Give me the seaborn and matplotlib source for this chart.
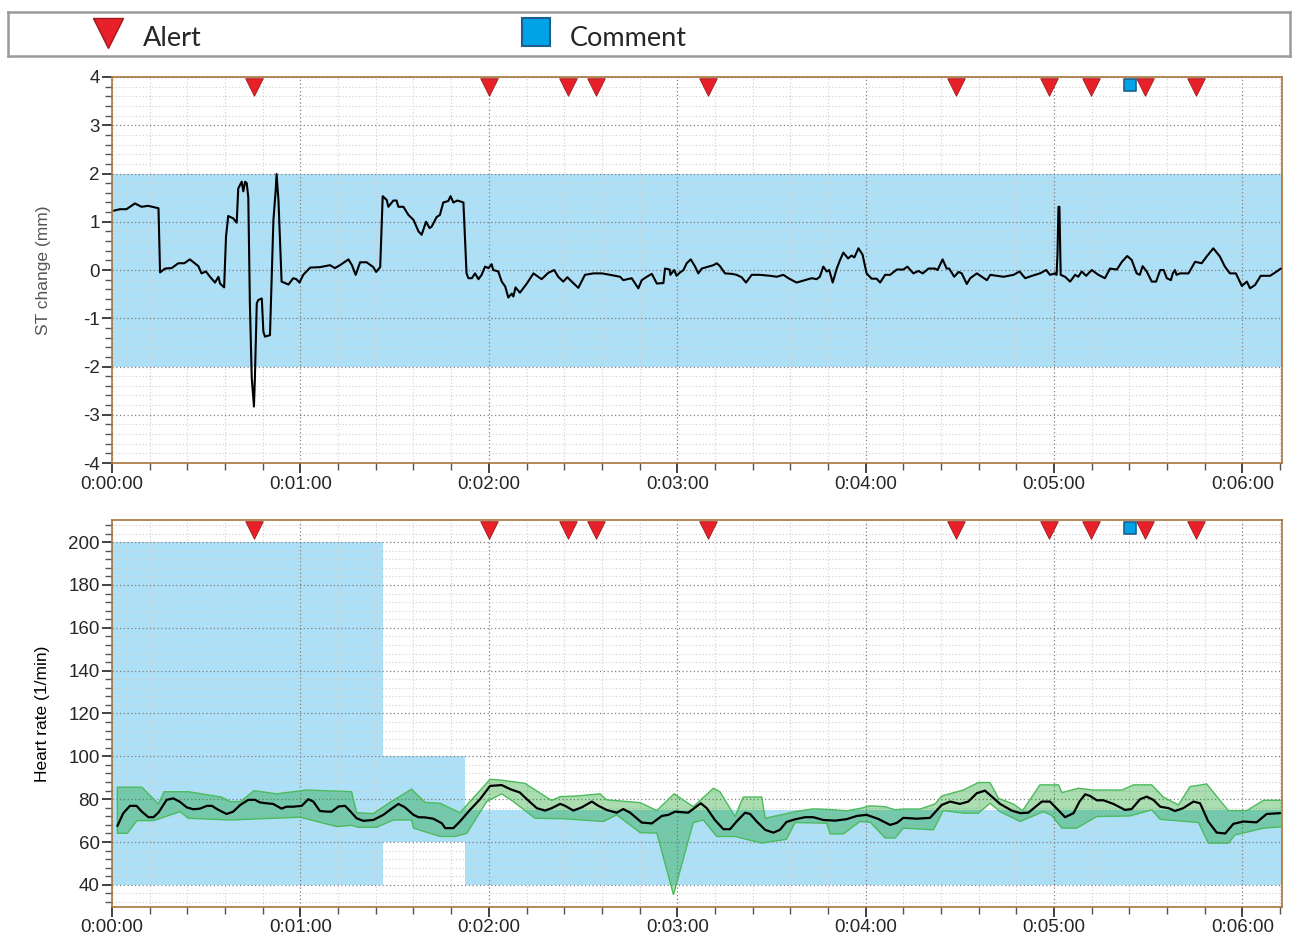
import matplotlib
matplotlib.use("Agg")
import numpy as np
import pandas as pd
import seaborn as sns
import matplotlib.pyplot as plt
from matplotlib.ticker import MultipleLocator, FuncFormatter

# ST change trace (seconds, mm)
st_time = [0.6, 2.5, 4.6, 7.3, 9.4, 11.5, 14.8, 15.3, 16.9, 19.0, 21.1, 23.0, 24.8, 27.5, 28.5, 29.9,
           31.2, 32.8, 33.9, 34.4, 35.7, 36.3, 37.0, 38.6, 39.7, 40.2, 41.3, 41.8, 42.4, 42.9, 43.4,
           43.9, 44.5, 45.2, 45.5, 46.1, 46.6, 47.7, 48.2, 48.7, 50.3, 51.4, 52.1, 52.4, 53.0, 54.0,
           56.2, 57.7, 58.7, 59.7, 60.9, 63.1, 66.3, 69.4, 71.0, 72.6, 75.3, 76.4, 77.6, 79.0, 81.1,
           83.2, 84.1, 85.4, 86.2, 87.5, 88.0, 89.6, 90.6, 91.2, 92.8, 94.4, 96.0, 97.6, 98.6, 100.0,
           101.1, 101.8, 103.4, 104.4, 105.5, 107.1, 107.8, 108.7, 110.0, 111.9, 112.9, 113.5, 114.6,
           115.6, 116.7, 117.7, 118.8, 119.9, 120.9, 121.4, 123.0, 124.1, 125.2, 126.2, 127.3, 127.8,
           128.5, 129.9, 132.1, 134.2, 136.8, 138.9, 140.8, 142.1, 143.7, 145.0, 146.4, 148.5, 150.6,
           153.3, 156.0, 158.6, 161.8, 162.8, 165.5, 167.6, 168.7, 170.3, 171.9, 173.5, 175.6, 176.1,
           177.6, 177.8, 179.0, 179.8, 180.9, 182.0, 183.0, 184.3, 185.7, 186.7, 187.8, 189.9, 191.5,
           192.6, 193.6, 195.2, 197.4, 198.9, 200.5, 201.9, 203.7, 206.3, 209.6, 211.7, 213.8, 215.4,
           218.0, 220.1, 222.8, 224.4, 225.4, 226.5, 227.6, 228.4, 229.5, 230.8, 231.8, 232.9, 234.4,
           235.5, 236.4, 237.7, 239.0, 240.3, 241.9, 243.5, 244.6, 246.2, 247.8, 249.9, 252.0, 253.3,
           255.2, 256.8, 258.2, 260.0, 262.1, 262.9, 264.5, 265.8, 266.6, 268.2, 269.6, 270.6, 272.2,
           273.3, 275.4, 277.0, 278.6, 279.7, 281.8, 283.9, 287.1, 289.0, 290.8, 293.0, 295.5, 297.5,
           298.7, 300.3, 300.8, 301.1, 301.4, 301.7, 301.9, 302.1, 303.5, 305.1, 306.7, 307.7, 308.8,
           310.2, 312.0, 314.1, 316.2, 317.8, 320.0, 321.6, 323.3, 324.7, 326.3, 327.3, 328.2, 329.5,
           331.1, 332.5, 333.8, 334.9, 335.9, 337.2, 337.8, 338.5, 339.0, 340.1, 342.8, 344.9, 347.0,
           348.6, 350.7, 352.8, 354.4, 356.0, 357.9, 359.8, 361.4, 362.4, 364.0, 365.8, 368.8, 370.7,
           372.2]
st_value = [1.23, 1.26, 1.26, 1.38, 1.31, 1.33, 1.28, -0.05, 0.03, 0.04, 0.14, 0.14, 0.22, 0.08, -0.07, -0.03,
            -0.14, -0.26, -0.14, -0.28, -0.36, 0.69, 1.12, 1.07, 0.98, 1.69, 1.83, 1.63, 1.83, 1.80, 1.50,
            -0.69, -2.24, -2.83, -2.24, -0.69, -0.62, -0.59, -1.28, -1.38, -1.35, 1.04, 1.63, 1.99, 1.45, -0.24,
            -0.30, -0.17, -0.19, -0.26, -0.10, 0.05, 0.06, 0.10, 0.04, 0.10, 0.22, 0.10, -0.10, 0.16, 0.16,
            0.06, -0.04, 0.06, 1.53, 1.45, 1.31, 1.44, 1.44, 1.31, 1.31, 1.14, 1.04, 0.80, 0.73, 1.00,
            0.87, 0.90, 1.10, 1.14, 1.40, 1.43, 1.53, 1.40, 1.44, 1.40, -0.07, -0.17, -0.17,
            -0.07, -0.19, -0.10, 0.07, 0.04, 0.12, 0.00, -0.03, -0.24, -0.34, -0.57, -0.49, -0.55,
            -0.36, -0.47, -0.28, -0.07, -0.19, -0.06, 0.00, -0.14, -0.24, -0.15, -0.24, -0.37, -0.10,
            -0.07, -0.07, -0.10, -0.14, -0.21, -0.17, -0.38, -0.21, -0.14, -0.08, -0.28, -0.27, 0.03,
            0.01, -0.10, 0.00, -0.12, -0.05, 0.00, 0.14, 0.22, 0.07, -0.07, 0.03, 0.07, 0.10,
            0.14, 0.08, -0.07, -0.08, -0.10, -0.15, -0.26, -0.10, -0.10, -0.12, -0.14, -0.10, -0.17,
            -0.26, -0.22, -0.17, -0.19, -0.14, 0.07, -0.03, 0.00, -0.26, 0.03, 0.20, 0.36, 0.24,
            0.30, 0.26, 0.45, 0.32, -0.07, -0.18, -0.18, -0.26, -0.10, -0.10, 0.01, 0.01, 0.07,
            -0.07, -0.02, -0.07, 0.03, 0.03, 0.00, 0.22, 0.03, 0.03, -0.14, -0.04, -0.07, -0.29,
            -0.17, -0.07, -0.14, -0.21, -0.10, -0.12, -0.14, -0.10, -0.03, -0.17, -0.12, -0.07, 0.00,
            -0.10, -0.07, -0.10, 0.35, 1.31, 1.31, 0.62, -0.10, -0.14, -0.24, -0.10, -0.14, -0.03,
            -0.12, 0.00, -0.10, -0.17, 0.03, 0.01, 0.17, 0.29, 0.21, -0.07, -0.10, 0.08, -0.03,
            -0.24, -0.24, 0.00, 0.00, -0.17, -0.21, -0.07, 0.00, -0.10, -0.07, -0.07, 0.17, 0.14,
            0.28, 0.45, 0.28, 0.07, -0.07, -0.07, -0.33, -0.24, -0.38, -0.31, -0.12, -0.12, -0.04,
            0.03]

# heart rate mean (seconds, 1/min)
hr_time = [1.7, 3.6, 5.7, 7.8, 9.5, 11.6, 13.2, 14.8, 17.4, 19.5, 21.6, 23.8, 25.9, 28.0, 30.2, 31.8,
           33.9, 36.5, 38.6, 40.8, 43.4, 45.5, 47.1, 49.2, 51.3, 54.0, 55.5, 57.7, 60.4, 62.5, 64.1,
           66.2, 68.4, 70.0, 72.1, 74.2, 75.8, 77.9, 80.0, 83.2, 86.4, 88.5, 91.2, 93.3, 96.0, 97.6,
           99.7, 102.3, 105.0, 106.1, 108.7, 110.8, 114.0, 117.2, 120.4, 124.1, 126.8, 129.9, 132.1,
           135.3, 137.9, 140.0, 142.7, 144.3, 146.9, 149.6, 152.8, 154.9, 157.5, 160.7, 162.8, 165.0,
           168.7, 171.9, 175.1, 177.2, 179.3, 183.5, 185.7, 187.5, 189.4, 192.0, 194.7, 196.8, 198.9,
           201.6, 203.2, 205.3, 208.0, 210.6, 212.7, 214.8, 217.5, 220.7, 223.3, 226.5, 230.3, 234.0,
           237.2, 240.3, 244.0, 247.8, 250.0, 252.0, 256.3, 260.5, 264.2, 266.9, 270.0, 272.7, 275.4,
           278.0, 280.2, 282.8, 286.5, 289.2, 291.8, 296.1, 298.7, 301.4, 303.5, 306.2, 308.1, 309.9,
           311.5, 313.6, 315.7, 318.9, 322.6, 324.7, 327.4, 329.5, 331.6, 333.8, 336.5, 338.5, 341.1,
           344.4, 346.5, 349.1, 351.8, 354.5, 357.1, 360.3, 364.5, 367.7, 372.0]
hr_mean = [67.5, 73.5, 76.9, 76.9, 74.2, 71.6, 71.6, 73.8, 79.7, 80.4, 78.8, 76.2, 75.3, 75.6, 76.9, 76.9,
           75.0, 73.1, 74.2, 77.3, 79.7, 79.7, 78.5, 78.1, 77.8, 75.6, 76.5, 76.5, 76.9, 80.0, 78.9,
           74.5, 74.2, 74.2, 76.6, 76.9, 74.5, 71.1, 69.9, 70.3, 72.7, 75.0, 77.8, 76.2, 72.7, 71.6,
           71.5, 70.9, 68.8, 66.5, 66.5, 69.6, 75.0, 80.0, 86.2, 86.6, 84.7, 83.1, 80.0,
           75.8, 74.7, 75.8, 77.8, 76.9, 74.7, 76.2, 78.9, 76.9, 75.0, 73.7, 75.4, 73.7,
           69.1, 68.7, 72.2, 72.7, 74.2, 73.7, 76.1, 78.1, 75.8, 70.3, 66.0, 66.0, 69.6,
           73.7, 73.1, 69.6, 65.7, 64.4, 65.7, 69.4, 70.6, 71.6, 71.6, 70.3, 70.0, 70.7,
           72.2, 72.7, 70.8, 68.0, 69.0, 71.3, 70.9, 71.3, 77.3, 78.9, 77.8, 78.9, 82.8,
           84.0, 81.2, 77.8, 74.7, 73.5, 73.7, 78.9, 78.9, 74.8, 71.6, 73.5, 78.9, 82.3,
           81.5, 79.5, 79.5, 77.8, 75.0, 75.4, 80.0, 81.2, 79.7, 76.5, 75.8, 74.5, 75.8,
           78.9, 78.1, 69.6, 64.4, 64.0, 68.5, 69.6, 69.2, 73.1, 73.5]

# heart rate range, upper edge
hr_max_time = [1.7, 9.5, 14.8, 16.6, 24.3, 34.9, 37.6, 41.0, 45.2, 52.4, 62.0, 76.3, 77.9, 83.2, 88.5,
               95.4, 99.7, 104.5, 110.8, 120.4, 124.6, 131.5, 140.0, 142.7, 148.0, 155.4, 157.5, 168.2,
               173.5, 179.0, 185.1, 191.5, 193.6, 198.4, 201.0, 206.9, 208.0, 217.5, 223.3, 228.6, 234.0,
               238.2, 241.4, 246.2, 249.4, 252.0, 257.3, 262.1, 264.2, 271.1, 275.9, 279.6, 282.3, 287.0,
               290.0, 295.5, 301.4, 302.5, 307.7, 312.5, 321.6, 325.3, 331.1, 334.8, 339.6, 343.3, 348.6,
               355.5, 361.4, 366.7, 372.5]
hr_max = [85.6, 85.6, 77.8, 83.5, 83.5, 81.0, 78.9, 78.9, 84.0, 82.5, 84.3, 83.5, 73.7, 73.3, 78.5,
          84.7, 78.5, 78.1, 73.7, 89.3, 88.8, 87.4, 79.4, 81.2, 81.5, 82.5, 79.7, 78.4,
          74.7, 82.5, 76.5, 85.1, 83.5, 71.9, 81.0, 81.0, 71.1, 74.2, 75.5, 75.2, 74.6,
          75.7, 76.9, 76.5, 75.0, 75.4, 75.4, 77.8, 81.5, 84.3, 87.8, 87.8, 80.4, 77.8,
          74.7, 86.7, 86.7, 83.1, 85.1, 84.3, 84.3, 86.7, 86.7, 81.0, 77.3, 85.9, 87.1,
          74.7, 74.7, 79.5, 79.5]

# heart rate range, lower edge
hr_min_time = [1.7, 4.9, 7.9, 13.2, 21.7, 24.3, 37.6, 59.9, 71.6, 76.3, 78.4, 84.3, 89.6, 95.4, 96.0,
               104.5, 109.2, 113.0, 119.3, 124.1, 127.8, 134.7, 143.7, 156.5, 160.7, 168.2, 173.5, 178.8,
               185.1, 188.3, 192.6, 198.4, 206.9, 214.8, 217.5, 227.6, 228.7, 232.9, 238.2, 241.5, 246.2,
               249.4, 252.0, 261.6, 264.7, 271.1, 275.9, 279.6, 282.8, 289.2, 296.6, 299.2, 302.5, 307.2,
               313.6, 324.2, 331.1, 333.8, 346.0, 349.1, 355.5, 357.6, 366.7, 372.5]
hr_min = [64.1, 64.1, 70.0, 70.0, 74.2, 71.1, 70.3, 71.6, 67.2, 67.8, 66.9, 66.9, 70.3, 70.3, 66.5,
          62.6, 62.6, 64.1, 78.9, 82.5, 78.9, 71.1, 70.9, 69.6, 72.7, 64.4, 64.2, 35.4,
          69.1, 70.3, 62.6, 62.6, 59.5, 61.3, 69.1, 68.8, 63.8, 63.8, 69.6, 69.2, 61.9,
          61.9, 66.5, 65.7, 74.7, 73.5, 73.5, 78.1, 74.2, 69.6, 74.2, 72.5, 66.5, 66.5,
          71.9, 72.2, 75.0, 70.6, 69.1, 59.5, 59.5, 63.3, 66.5, 67.1]

# alarm limits
st_limits = (-2, 2)
hr_limit_start = [0, 86.4, 112.4]
hr_limit_end = [86.4, 112.4, 372.6]
hr_limit_low = [40, 60, 40]
hr_limit_high = [200, 100, 75]

# events
alert_times = [45.2, 120.0, 145.2, 154.1, 189.8, 268.8, 298.4, 311.8, 329.0, 345.2]
comment_times = [324.2]

t_end = 372.6

sns.set_style("white")
plt.rcParams["font.family"] = ["Liberation Sans", "Arimo", "DejaVu Sans"]
plt.rcParams["axes.unicode_minus"] = False

band_blue = "#ade0f6"
spine_col = "#a8743e"
red = "#e8202a"
red_edge = "#a01818"
cyan = "#00a2e8"
cyan_edge = "#1f5f8f"


def hms(x, pos):
    s = int(round(x))
    return f"{s // 3600}:{(s // 60) % 60:02d}:{s % 60:02d}"


def style_axis(ax):
    ax.set_xlim(0, t_end)
    ax.xaxis.set_major_locator(MultipleLocator(60))
    ax.xaxis.set_minor_locator(MultipleLocator(12))
    ax.xaxis.set_major_formatter(FuncFormatter(hms))
    ax.set_axisbelow(True)
    ax.grid(which="major", color="#808080", linestyle=(0, (1, 2)), linewidth=0.9)
    ax.grid(which="minor", color="#cfcfcf", linestyle=(0, (1, 2)), linewidth=0.8)
    for sp in ax.spines.values():
        sp.set_color(spine_col)
        sp.set_linewidth(1.2)
    ax.tick_params(which="major", direction="out", length=7, width=1.2, color="#222222",
                   labelsize=13.5, pad=2, bottom=True, left=True)
    ax.tick_params(which="minor", direction="out", length=5, width=1.0, color="#555555",
                   bottom=True, left=True)
    ax.set_xlabel("")


def add_events(ax):
    tr = ax.get_xaxis_transform()
    ax.scatter(alert_times, [0.974] * len(alert_times), marker="v", s=160, color=red,
               edgecolor=red_edge, linewidth=0.6, transform=tr, zorder=6, clip_on=False)
    ax.scatter(comment_times, [0.98] * len(comment_times), marker="s", s=70, color=cyan,
               edgecolor=cyan_edge, linewidth=1.2, transform=tr, zorder=6, clip_on=False)


fig = plt.figure(figsize=(12.92, 9.39), dpi=100)
ax1 = fig.add_axes([0.0867, 0.5069, 0.9056, 0.4111])
ax2 = fig.add_axes([0.0867, 0.0341, 0.9056, 0.4121])
leg = fig.add_axes([0.0062, 0.9404, 0.9923, 0.0469])

# --- ST change
ax1.axhspan(st_limits[0], st_limits[1], color=band_blue, zorder=0.2, lw=0)
st_df = pd.DataFrame({"t": st_time, "st": st_value})
sns.lineplot(data=st_df, x="t", y="st", ax=ax1, color="black", lw=1.5, estimator=None, zorder=4)
style_axis(ax1)
ax1.set_ylim(-4, 4)
ax1.yaxis.set_major_locator(MultipleLocator(1))
ax1.yaxis.set_minor_locator(MultipleLocator(0.2))
ax1.set_ylabel("ST change (mm)", fontsize=12.5, color="#555555")
ax1.yaxis.set_label_coords(-0.052, 0.5)
add_events(ax1)

# --- heart rate
for t0, t1, lo, hi in zip(hr_limit_start, hr_limit_end, hr_limit_low, hr_limit_high):
    ax2.fill_between([t0, t1], [lo, lo], [hi, hi], color=band_blue, zorder=0.2, lw=0)
poly_t = np.concatenate([hr_max_time, hr_min_time[::-1]])
poly_v = np.concatenate([hr_max, hr_min[::-1]])
ax2.fill(poly_t, poly_v, facecolor=(0.0, 0.6, 0.08, 0.33), edgecolor="#4cbb5c", lw=1.0, zorder=3)
hr_df = pd.DataFrame({"t": hr_time, "hr": hr_mean})
sns.lineplot(data=hr_df, x="t", y="hr", ax=ax2, color="black", lw=1.6, estimator=None, zorder=4)
style_axis(ax2)
ax2.set_ylim(29.7, 210.3)
ax2.yaxis.set_major_locator(MultipleLocator(20))
ax2.yaxis.set_minor_locator(MultipleLocator(4))
ax2.set_yticks(range(40, 201, 20))
ax2.set_ylabel("Heart rate (1/min)", fontsize=12.5, color="black")
ax2.yaxis.set_label_coords(-0.053, 0.5)
add_events(ax2)

# --- legend strip
leg.set_xlim(0, 1)
leg.set_ylim(0, 1)
leg.set_xticks([])
leg.set_yticks([])
for sp in leg.spines.values():
    sp.set_color("#9a9a9a")
    sp.set_linewidth(1.8)
leg.plot([0.078], [0.52], marker="v", ms=21, color=red, mec=red_edge, mew=1.0)
leg.text(0.105, 0.40, "Alert", fontsize=19.5, va="center", ha="left", family=["Lato", "DejaVu Sans"])
leg.plot([0.412], [0.55], marker="s", ms=20, color=cyan, mec=cyan_edge, mew=1.5)
leg.text(0.438, 0.40, "Comment", fontsize=19.5, va="center", ha="left", family=["Lato", "DejaVu Sans"])

fig.savefig("out.png", dpi=100, facecolor="white")
